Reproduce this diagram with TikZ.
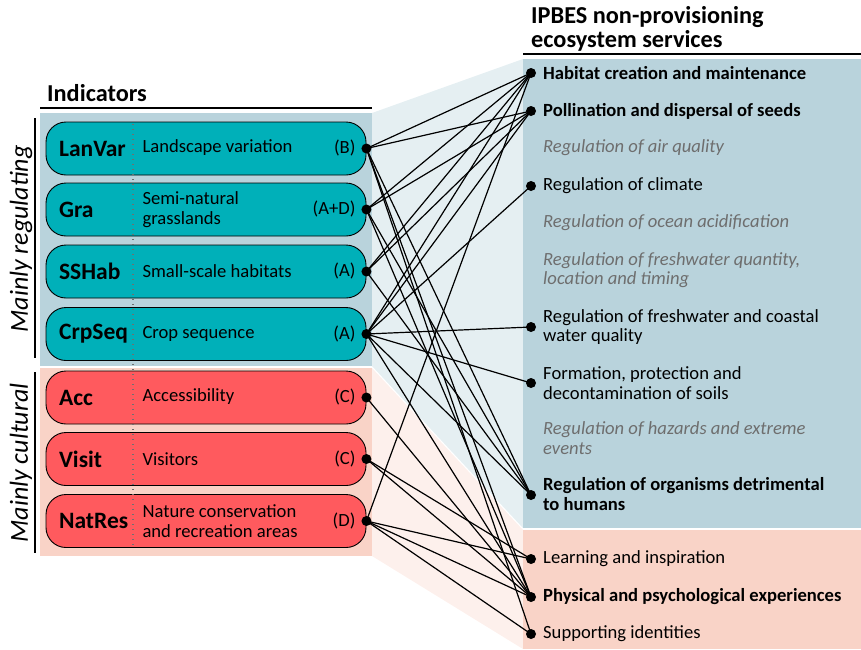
\documentclass[tikz,border=0pt]{standalone}
\usepackage{fontspec}
\setmainfont{Carlito}
\definecolor{panelblue}{HTML}{B9D3DC}
\definecolor{panelpink}{HTML}{F9D3C7}
\definecolor{trapblue}{HTML}{E5EFF2}
\definecolor{trappink}{HTML}{FDF0EC}
\definecolor{tealbox}{HTML}{00B0B9}
\definecolor{redbox}{HTML}{FF5A5E}
\definecolor{greytext}{HTML}{6E6E6E}
\definecolor{dotgrey}{HTML}{707070}
\begin{document}
\begin{tikzpicture}[x=1pt,y=-1pt,
  ibox/.style={draw=black, line width=0.9pt, rounded corners=20pt, minimum width=320pt, minimum height=53pt, inner sep=0pt},
  dot/.style={circle, fill=black, inner sep=0pt, minimum size=10pt},
  iname/.style={anchor=west, font=\bfseries\fontsize{23.5}{25}\selectfont},
  idesc/.style={anchor=west, align=left, font=\fontsize{18.6}{19.5}\selectfont},
  icode/.style={anchor=east, font=\fontsize{18.6}{19.5}\selectfont},
  svc/.style={anchor=west, align=left, inner sep=0pt, font=\fontsize{18.6}{19.5}\selectfont},
  svcb/.style={svc, font=\bfseries\fontsize{18.6}{19.5}\selectfont},
  svci/.style={svc, text=greytext, font=\itshape\fontsize{18.6}{19.5}\selectfont},
  head/.style={anchor=base west, inner sep=0pt, font=\bfseries\fontsize{24.3}{25}\selectfont},
  side/.style={rotate=90, inner sep=0pt, font=\itshape\fontsize{26}{27}\selectfont},
  conn/.style={line width=1.2pt}
]
\useasboundingbox (0,0) rectangle (861,649);
% trapezoids
\fill[trapblue] (372,113) -- (523,59) -- (523,528) -- (372,366) -- cycle;
\fill[trappink] (372,368) -- (523,530) -- (523,649) -- (372,556) -- cycle;
% panels
\fill[panelblue] (40,113) rectangle (372,366);
\fill[panelpink] (40,368) rectangle (372,556);
\fill[panelblue] (523,59) rectangle (861,528);
\fill[panelpink] (523,530) rectangle (861,649);
% headers
\node[head] (hind) at (47,101) {Indicators};
\draw[line width=1.6pt] (40,108) -- (372,108);
\node[head] (hsvc1) at (531,23) {IPBES non-provisioning};
\node[head] (hsvc2) at (531,47) {ecosystem services};
\draw[line width=1.6pt] (523,54) -- (861,54);
% side labels
\draw[line width=1.5pt] (35,118) -- (35,358);
\draw[line width=1.5pt] (35,372) -- (35,553);
\node[side] (sreg) at (21,239) {Mainly regulating};
\node[side] (scul) at (21,463) {Mainly cultural};
% indicator boxes
\node[ibox, fill=tealbox] (b1) at (206,148.5) {};
\node[ibox, fill=tealbox] (b2) at (206,209.5) {};
\node[ibox, fill=tealbox] (b3) at (206,271.5) {};
\node[ibox, fill=tealbox] (b4) at (206,334) {};
\node[ibox, fill=redbox] (b5) at (206,397.5) {};
\node[ibox, fill=redbox] (b6) at (206,459) {};
\node[ibox, fill=redbox] (b7) at (206,521) {};
\draw[dotgrey, line width=1.3pt, dash pattern=on 1.4pt off 3.6pt] (133,124) -- (133,548);
\node[iname] (n1) at (b1.west) [xshift=10pt] {LanVar};
\node[iname] (n2) at (b2.west) [xshift=10pt] {Gra};
\node[iname] (n3) at (b3.west) [xshift=10pt] {SSHab};
\node[iname] (n4) at (b4.west) [xshift=10pt] {CrpSeq};
\node[iname] (n5) at (b5.west) [xshift=10pt] {Acc};
\node[iname] (n6) at (b6.west) [xshift=10pt] {Visit};
\node[iname] (n7) at (b7.west) [xshift=10pt] {NatRes};
\node[idesc] (t1) at (139,148) {Landscape variation};
\node[idesc] (t2) at (139,209.5) {Semi-natural\\grasslands};
\node[idesc] (t3) at (139,271) {Small-scale habitats};
\node[idesc] (t4) at (139,334) {Crop sequence};
\node[idesc] (t5) at (139,397) {Accessibility};
\node[idesc] (t6) at (139,459) {Visitors};
\node[idesc] (t7) at (139,521) {Nature conservation\\and recreation areas};
\node[icode] (c1) at (359,148) {(B)};
\node[icode] (c2) at (359,209) {(A+D)};
\node[icode] (c3) at (359,271) {(A)};
\node[icode] (c4) at (359,334) {(A)};
\node[icode] (c5) at (359,397) {(C)};
\node[icode] (c6) at (359,459) {(C)};
\node[icode] (c7) at (359,521) {(D)};
% left dots
\foreach \i in {1,...,7} {\node[dot] (l\i) at (b\i.east) {};}
% services
\node[dot] (r1) at (531,73) {};
\node[svcb] (s1) at (543,73) {Habitat creation and maintenance};
\node[dot] (r2) at (531,111) {};
\node[svcb] (s2) at (543,111) {Pollination and dispersal of seeds};
\node[svci] (s3) at (543,148) {Regulation of air quality};
\node[dot] (r4) at (531,186) {};
\node[svc] (s4) at (543,186) {Regulation of climate};
\node[svci] (s5) at (543,223) {Regulation of ocean acidification};
\node[svci] (s6) at (543,270) {Regulation of freshwater quantity,\\location and timing};
\node[dot] (r7) at (531,327) {};
\node[svc] (s7) at (543,327) {Regulation of freshwater and coastal\\water quality};
\node[dot] (r8) at (531,383) {};
\node[svc] (s8) at (543,383) {Formation, protection and\\decontamination of soils};
\node[svci] (s9) at (543,438) {Regulation of hazards and extreme\\events};
\node[dot] (r10) at (531,495) {};
\node[svcb] (s10) at (543,494) {Regulation of organisms detrimental\\to humans};
\node[dot] (r11) at (531,559) {};
\node[svc] (s11) at (543,559) {Learning and inspiration};
\node[dot] (r12) at (531,597) {};
\node[svcb] (s12) at (543,597) {Physical and psychological experiences};
\node[dot] (r13) at (531,634) {};
\node[svc] (s13) at (543,634) {Supporting identities};
% connectors
\foreach \a/\b in {1/1,1/2,1/10,1/12,1/13,
                   2/1,2/2,2/10,2/12,
                   3/1,3/2,3/10,
                   4/1,4/2,4/4,4/7,4/8,4/10,4/12,
                   5/12,
                   6/11,6/12,
                   7/1,7/11,7/12,7/13}
  {\draw[conn] (l\a.center) -- (r\b.center);}
\end{tikzpicture}
\end{document}
